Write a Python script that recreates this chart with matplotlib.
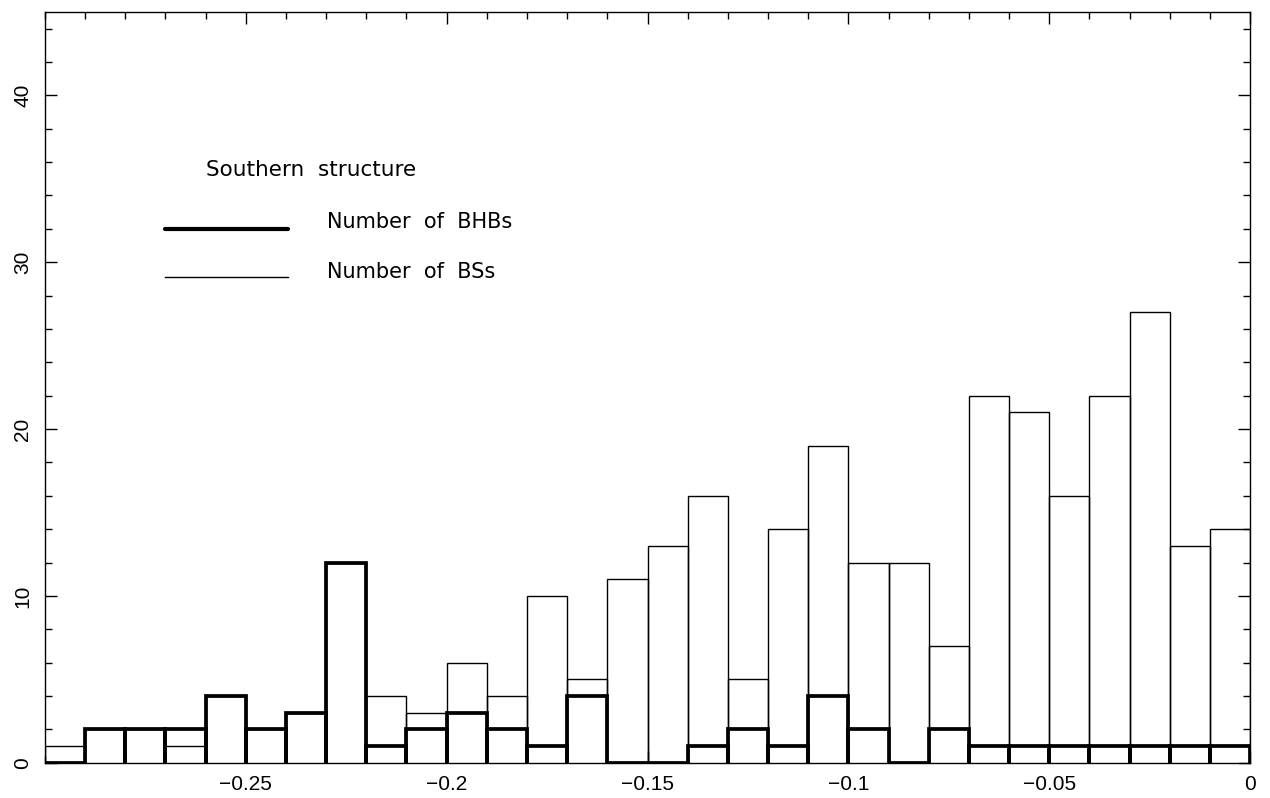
import numpy as np
import matplotlib
matplotlib.use("Agg")
import matplotlib.pyplot as plt
from matplotlib.ticker import MultipleLocator, FixedLocator, FixedFormatter

# Histogram bins (width 0.01) spanning -0.30 .. 0.00
bin_edges = np.round(np.arange(-0.30, 0.0001, 0.01), 2)

# Counts per bin, left to right
bs_counts = [1, 2, 2, 1, 4, 2, 3, 12, 4, 3, 6, 4, 10, 5, 11, 13, 16, 5, 14, 19,
             12, 12, 7, 22, 21, 16, 22, 27, 13, 14]
bhb_counts = [0, 2, 2, 2, 4, 2, 3, 12, 1, 2, 3, 2, 1, 4, 0, 0, 1, 2, 1, 4,
              2, 0, 2, 1, 1, 1, 1, 1, 1, 1]

xtick_values = [-0.25, -0.2, -0.15, -0.1, -0.05, 0.0]
xtick_labels = ["\u22120.25", "\u22120.2", "\u22120.15", "\u22120.1", "\u22120.05", "0"]
ytick_values = [0, 10, 20, 30, 40]
ytick_labels = ["0", "10", "20", "30", "40"]

title_text = "Southern  structure"
bhb_label = "Number  of  BHBs"
bs_label = "Number  of  BSs"

plt.rcParams["font.family"] = ["Liberation Sans", "DejaVu Sans"]

fig = plt.figure(figsize=(12.7, 7.98), dpi=100)
ax = fig.add_axes([0.0354, 0.0442, 0.9489, 0.9408])

THIN = 1.0
THICK = 2.7


def draw_hist(counts, lw):
    # open outline per bin: no bottom edge, verticals reach the baseline
    for left, right, v in zip(bin_edges[:-1], bin_edges[1:], counts):
        ax.plot([left, left, right, right], [0, v, v, 0], color="black",
                lw=lw, solid_joinstyle="miter", solid_capstyle="butt")


draw_hist(bs_counts, THIN)
draw_hist(bhb_counts, THICK)

ax.set_xlim(-0.30, 0.0)
ax.set_ylim(0, 45)

ax.xaxis.set_major_locator(FixedLocator(xtick_values))
ax.xaxis.set_major_formatter(FixedFormatter(xtick_labels))
ax.xaxis.set_minor_locator(MultipleLocator(0.01))
ax.yaxis.set_major_locator(FixedLocator(ytick_values))
ax.yaxis.set_major_formatter(FixedFormatter(ytick_labels))
ax.yaxis.set_minor_locator(MultipleLocator(2))

ax.tick_params(which="both", direction="in", top=True, right=True,
               width=1.0, colors="black", labelsize=15)
ax.tick_params(which="major", length=8.6)
ax.tick_params(which="minor", length=4.8)
ax.tick_params(axis="x", pad=9)
ax.tick_params(axis="y", pad=9)
for lab in ax.get_yticklabels():
    lab.set_rotation(90)
    lab.set_va("center")

for sp in ax.spines.values():
    sp.set_linewidth(1.0)

# Key
key_font = ["DejaVu Sans"]
ax.text(-0.2600, 35.5, title_text, fontsize=15.5, va="center", ha="left",
        family=key_font)
ax.plot([-0.2701, -0.2395], [32.0, 32.0], color="black", lw=THICK + 0.3,
        solid_capstyle="round")
ax.text(-0.2298, 32.4, bhb_label, fontsize=15, va="center", ha="left",
        family=key_font)
ax.plot([-0.2701, -0.2395], [29.1, 29.1], color="black", lw=THIN)
ax.text(-0.2298, 29.4, bs_label, fontsize=15, va="center", ha="left",
        family=key_font)

fig.savefig("out.png", dpi=100)
